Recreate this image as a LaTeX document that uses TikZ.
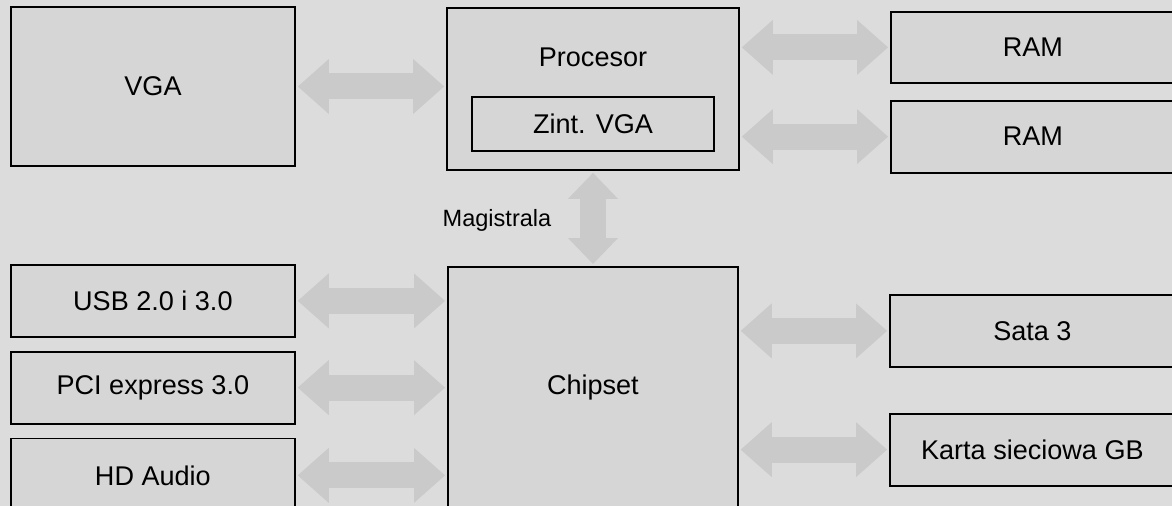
\documentclass[tikz,border=0pt]{standalone}
\usepackage{fontspec}
\setmainfont{Liberation Sans}
\usepackage{tikz}
\usetikzlibrary{arrows.meta, positioning}
\definecolor{pageGray}{RGB}{220,220,220}
\definecolor{boxGray}{RGB}{214,214,214}
\definecolor{busGray}{RGB}{202,202,202}
\newdimen\px \px=0.02cm
\tikzset{
  pcbox/.style={
    rectangle,
    draw=black, line width=1pt,
    fill=boxGray,
    inner sep=0pt,
    align=center,
    font=\fontsize{15.4}{18}\selectfont
  },
  pctext/.style={
    font=\fontsize{15.4}{18}\selectfont
  },
  buslabel/.style={
    font=\fontsize{13.4}{15}\selectfont
  },
  bus/.style={
    draw=busGray, line width=0.52cm,
    {Triangle[length=0.62cm,width=1.1cm,line width=0pt]}-{Triangle[length=0.62cm,width=1.1cm,line width=0pt]},
    shorten <=0.04cm, shorten >=0.04cm
  },
  shortbus/.style={
    bus,
    {Triangle[length=0.52cm,width=1.0cm,line width=0pt]}-{Triangle[length=0.52cm,width=1.0cm,line width=0pt]}
  }
}

\begin{document}
\begin{tikzpicture}[x=0.02cm, y=-0.02cm]

  \clip (0,0) rectangle (1172,506);
  \fill[pageGray] (0,0) rectangle (1172,506);

  % upper row
  \node[pcbox, minimum width=284\px, minimum height=159\px] (vga) at (153,86.5) {VGA};

  \node[pcbox, minimum width=292\px, minimum height=162\px] (cpu) at (593,89) {};
  \node[pctext] (cputext) at (593,57) {Procesor};
  \node[pcbox, minimum width=242\px, minimum height=54\px] (igpu) at (593,124) {Zint. VGA};

  \node[pcbox, minimum width=284\px, minimum height=71\px, anchor=north west] (ram1)
    at (890,11) {RAM};
  \node[pcbox, minimum width=284\px, minimum height=72\px, below=16\px of ram1] (ram2) {RAM};

  % lower row
  \node[pcbox, minimum width=290\px, minimum height=242\px, anchor=north west] (chipset)
    at (447,266) {Chipset};

  \node[pcbox, minimum width=284\px, minimum height=72\px, anchor=north west] (usb)
    at (10,264) {USB 2.0 i 3.0};
  \node[pcbox, minimum width=284\px, minimum height=72\px, below=13\px of usb] (pci) {PCI express 3.0};
  \node[pcbox, minimum width=284\px, minimum height=74\px, below=13\px of pci] (hda) {HD Audio};

  \node[pcbox, minimum width=285\px, minimum height=72\px, anchor=north west] (sata)
    at (889,294) {Sata 3};
  \node[pcbox, minimum width=285\px, minimum height=72\px, below=45\px of sata] (lan) {Karta sieciowa GB};

  \node[buslabel] (magistrala) at (497,220) {Magistrala};

  % buses
  \draw[bus] (vga.east) -- (vga.east -| cpu.west);
  \draw[bus] (cpu.east |- ram1.west) -- (ram1.west);
  \draw[bus] (cpu.east |- ram2.west) -- (ram2.west);
  \draw[shortbus] (cpu.south) -- (chipset.north -| cpu.south);
  \draw[bus] (usb.east) -- (usb.east -| chipset.west);
  \draw[bus] (pci.east) -- (pci.east -| chipset.west);
  \draw[bus] (hda.east) -- (hda.east -| chipset.west);
  \draw[bus] (chipset.east |- sata.west) -- (sata.west);
  \draw[bus] (chipset.east |- lan.west) -- (lan.west);

\end{tikzpicture}
\end{document}
